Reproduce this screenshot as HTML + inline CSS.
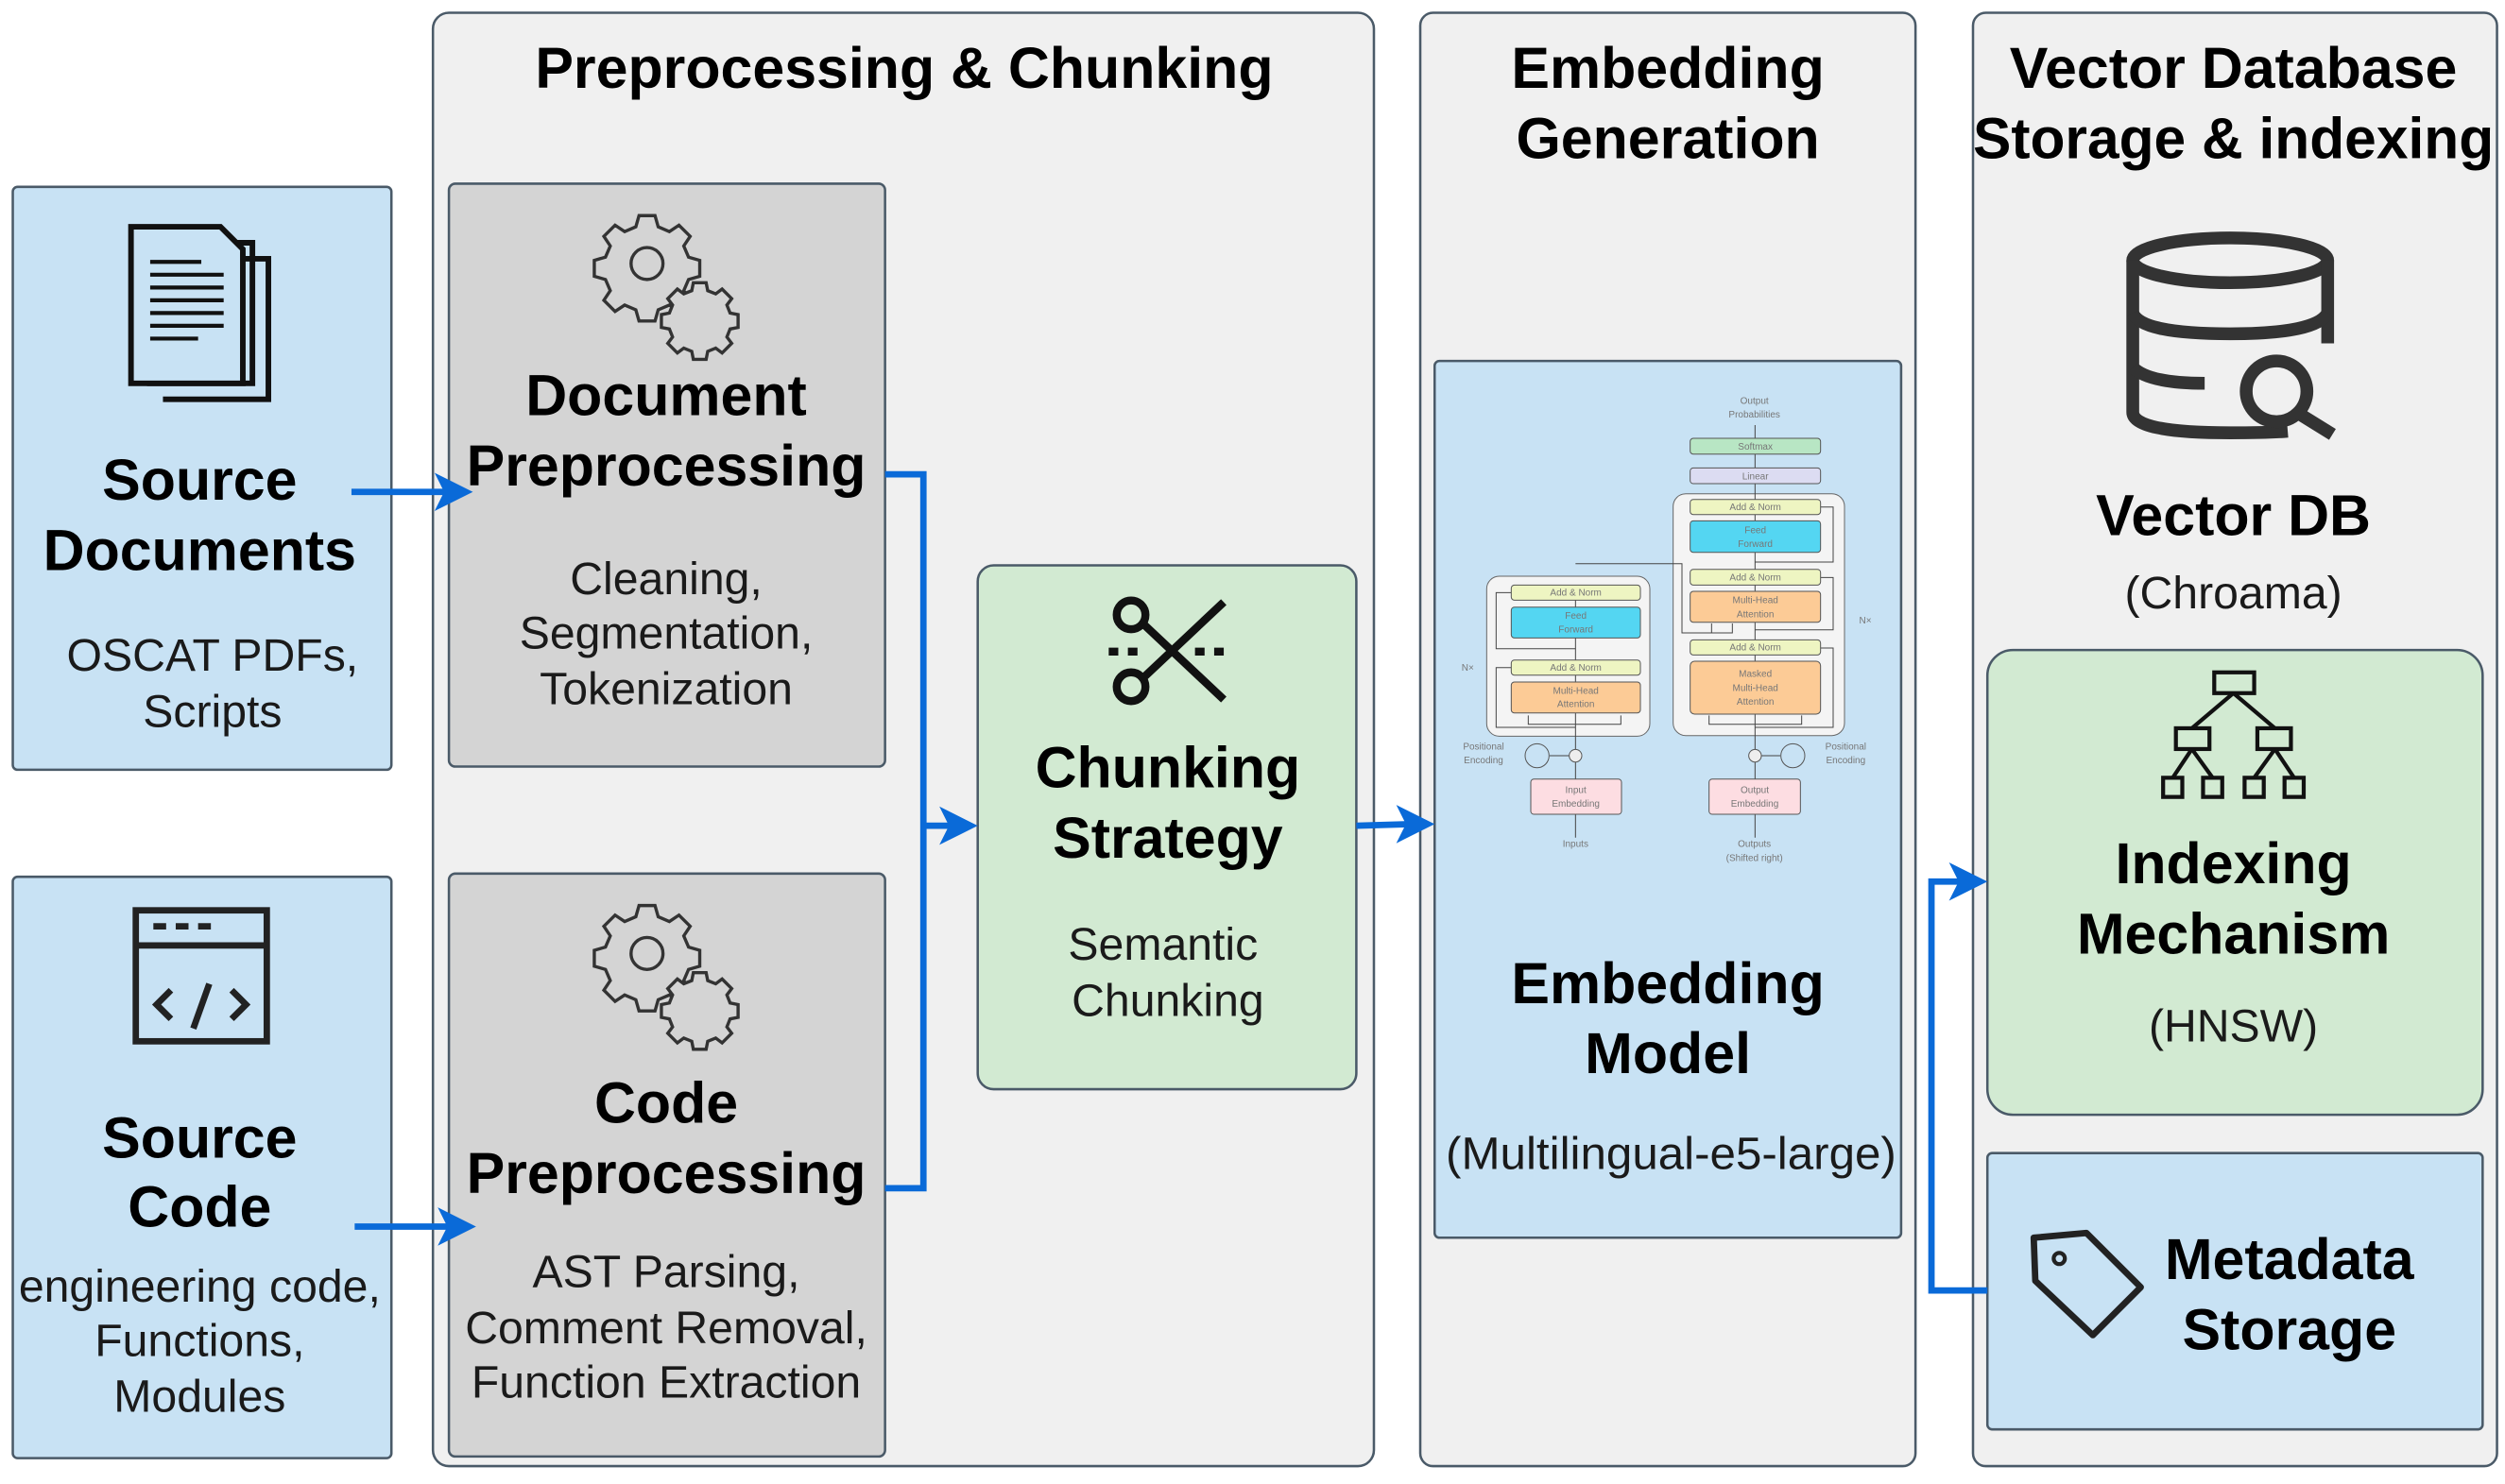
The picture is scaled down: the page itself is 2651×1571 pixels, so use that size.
<!DOCTYPE html>
<html><head><meta charset="utf-8"><style>
html,body{margin:0;padding:0;background:#fff;}
svg{display:block;}
text{font-family:"Liberation Sans",Arial,sans-serif;}
.h{font-weight:bold;font-size:36px;fill:#000;text-anchor:middle;}
.b{font-size:28.5px;fill:#1a1a1a;text-anchor:middle;}
.t{font-size:30px;fill:#777;text-anchor:middle;}
</style></head><body>
<svg width="2651" height="1571" viewBox="0 0 1568 929.2" xmlns="http://www.w3.org/2000/svg">
<rect width="1568" height="929.2" fill="#fff"/>
<!-- panels -->
<rect x="271" y="8" width="589" height="910" rx="10" fill="#f0f0f0" stroke="#4a5a68" stroke-width="1.5"/>
<rect x="889" y="8" width="310" height="910" rx="8" fill="#f0f0f0" stroke="#4a5a68" stroke-width="1.5"/>
<rect x="1235" y="8" width="328" height="910" rx="8" fill="#f0f0f0" stroke="#4a5a68" stroke-width="1.5"/>
<text class="h" x="566" y="55">Preprocessing &amp; Chunking</text>
<text class="h" x="1044" y="55">Embedding</text>
<text class="h" x="1044" y="99">Generation</text>
<text class="h" x="1398" y="55">Vector Database</text>
<text class="h" x="1398" y="99" textLength="326" lengthAdjust="spacingAndGlyphs">Storage &amp; indexing</text>

<!-- source boxes -->
<rect x="8" y="117" width="237" height="365" rx="3" fill="#c8e2f4" stroke="#4a5a68" stroke-width="1.5"/>
<rect x="8" y="549" width="237" height="364" rx="3" fill="#c8e2f4" stroke="#4a5a68" stroke-width="1.5"/>
<!-- doc icon -->
<g fill="none" stroke="#111" stroke-width="3.5">
<path d="M108 162 h60 v88 h-66"/>
<path d="M98 152 h60 v88 h-66"/>
<path d="M82 142 h56 l14 14 v84 h-70 z" fill="#c8e2f4"/>
<path d="M94 164 h32 M94 172 h46 M94 180 h46 M94 188 h46 M94 196 h46 M94 204 h46 M94 212 h30" stroke-width="2.5"/>
</g>
<text class="h" x="125" y="313">Source</text>
<text class="h" x="125" y="357">Documents</text>
<text class="b" x="133" y="420">OSCAT PDFs,</text>
<text class="b" x="133" y="455">Scripts</text>
<!-- code icon -->
<g fill="none" stroke="#222" stroke-width="4">
<rect x="85" y="570" width="82" height="82"/>
<path d="M85 592 h82"/>
<path d="M107 620 l-9 9 l9 9 M145 620 l9 9 l-9 9 M131 616 l-10 28"/>
</g>
<path d="M96 580 h8 M110 580 h8 M124 580 h8" stroke="#222" stroke-width="4"/>
<text class="h" x="125" y="725">Source</text>
<text class="h" x="125" y="768">Code</text>
<text class="b" x="125" y="815">engineering code,</text>
<text class="b" x="125" y="849">Functions,</text>
<text class="b" x="125" y="884">Modules</text>

<!-- preprocessing boxes -->
<rect x="281" y="115" width="273" height="365" rx="4" fill="#d4d4d4" stroke="#4a5a68" stroke-width="1.5"/>
<rect x="281" y="547" width="273" height="365" rx="4" fill="#d4d4d4" stroke="#4a5a68" stroke-width="1.5"/>
<defs>
<g id="gears" fill="none" stroke="#333" stroke-width="2">
<circle cx="405" cy="165" r="10"/>
<path d="M400 135 h10 l2 7 l7 3 l6 -4 l7 7 l-4 6 l3 7 l7 2 v10 l-7 2 l-3 7 l4 6 l-7 7 l-6 -4 l-7 3 l-2 7 h-10 l-2 -7 l-7 -3 l-6 4 l-7 -7 l4 -6 l-3 -7 l-7 -2 v-10 l7 -2 l3 -7 l-4 -6 l7 -7 l6 4 l7 -3 z"/>
<circle cx="438" cy="199" r="7"/>
<path d="M434 177 h8 l1 5 l5 2 l4 -3 l6 6 l-3 4 l2 5 l5 1 v8 l-5 1 l-2 5 l3 4 l-6 6 l-4 -3 l-5 2 l-1 5 h-8 l-1 -5 l-5 -2 l-4 3 l-6 -6 l3 -4 l-2 -5 l-5 -1 v-8 l5 -1 l2 -5 l-3 -4 l6 -6 l4 3 l5 -2 z" fill="#d4d4d4"/>
</g>
</defs>
<use href="#gears"/>
<use href="#gears" y="432"/>
<text class="h" x="417" y="260">Document</text>
<text class="h" x="417" y="304">Preprocessing</text>
<text class="b" x="417" y="372">Cleaning,</text>
<text class="b" x="417" y="406">Segmentation,</text>
<text class="b" x="417" y="441">Tokenization</text>
<text class="h" x="417" y="703">Code</text>
<text class="h" x="417" y="747">Preprocessing</text>
<text class="b" x="417" y="806">AST Parsing,</text>
<text class="b" x="417" y="841">Comment Removal,</text>
<text class="b" x="417" y="875">Function Extraction</text>

<!-- chunking -->
<rect x="612" y="354" width="237" height="328" rx="10" fill="#d2ead2" stroke="#4a5a68" stroke-width="1.5"/>
<g stroke="#111" fill="none" stroke-width="5">
<circle cx="708" cy="385" r="9"/>
<circle cx="708" cy="430" r="9"/>
<path d="M715 425 L766 377 M716 391 L766 438"/>
<path d="M694 408 h6 M706 408 h6 M748 408 h6 M760 408 h6" stroke-width="5"/>
</g>
<text class="h" x="731" y="493">Chunking</text>
<text class="h" x="731" y="537">Strategy</text>
<text class="b" x="728" y="601">Semantic</text>
<text class="b" x="731" y="636">Chunking</text>

<!-- embedding model -->
<rect x="898" y="226" width="292" height="549" rx="3" fill="#c8e2f4" stroke="#4a5a68" stroke-width="1.5"/>
<g transform="translate(922.7,236.6) scale(0.19716)">
<g stroke="#444" stroke-width="3" fill="none">
<rect x="40" y="630" width="518" height="508" rx="40" fill="#f4f4f4" stroke="#666"/>
<rect x="632" y="368" width="544" height="768" rx="40" fill="#f4f4f4" stroke="#666"/>
<path d="M322 1460 V658 M892 1460 V150"/>
<path d="M322 590 H660 V810 H820 V780 M754 810 V780"/>
<path d="M322 1110 H70 V920 H118 M322 860 H70 V682 H118"/>
<path d="M892 1110 H1140 V858 H1100 M892 800 H1140 V634 H1100 M892 585 H1140 V410 H1100"/>
<path d="M172 1072 V1100 H466 V1072 M746 1072 V1100 H1040 V1072"/>
<path d="M240 1200 H302 M912 1200 H972"/>
</g>
<g stroke="#555" stroke-width="3">
<rect x="118" y="658" width="410" height="48" rx="10" fill="#eef5c2"/>
<rect x="118" y="728" width="410" height="98" rx="10" fill="#54d6f2"/>
<rect x="118" y="896" width="410" height="48" rx="10" fill="#eef5c2"/>
<rect x="118" y="966" width="410" height="98" rx="10" fill="#fccb96"/>
<rect x="686" y="192" width="414" height="50" rx="10" fill="#b8e6c4"/>
<rect x="686" y="286" width="414" height="50" rx="10" fill="#dcdcf2"/>
<rect x="686" y="386" width="414" height="48" rx="10" fill="#eef5c2"/>
<rect x="686" y="454" width="414" height="100" rx="10" fill="#54d6f2"/>
<rect x="686" y="608" width="414" height="50" rx="10" fill="#eef5c2"/>
<rect x="686" y="678" width="414" height="98" rx="10" fill="#fccb96"/>
<rect x="686" y="832" width="414" height="48" rx="10" fill="#eef5c2"/>
<rect x="686" y="900" width="414" height="168" rx="14" fill="#fccb96"/>
<rect x="180" y="1274" width="288" height="112" rx="10" fill="#fddde2"/>
<rect x="746" y="1274" width="290" height="112" rx="10" fill="#fddde2"/>
<circle cx="200" cy="1200" r="38" fill="none"/>
<circle cx="1012" cy="1200" r="38" fill="none"/>
<circle cx="322" cy="1200" r="20" fill="#eee"/>
<circle cx="892" cy="1200" r="20" fill="#eee"/>
</g>
<g class="t">
<text class="t" x="323" y="692">Add &amp; Norm</text>
<text class="t" x="323" y="765">Feed</text><text class="t" x="323" y="808">Forward</text>
<text class="t" x="323" y="930">Add &amp; Norm</text>
<text class="t" x="323" y="1003">Multi-Head</text><text class="t" x="323" y="1046">Attention</text>
<text class="t" x="893" y="228">Softmax</text>
<text class="t" x="893" y="322">Linear</text>
<text class="t" x="893" y="420">Add &amp; Norm</text>
<text class="t" x="893" y="494">Feed</text><text class="t" x="893" y="537">Forward</text>
<text class="t" x="893" y="643">Add &amp; Norm</text>
<text class="t" x="893" y="716">Multi-Head</text><text class="t" x="893" y="760">Attention</text>
<text class="t" x="893" y="866">Add &amp; Norm</text>
<text class="t" x="893" y="950">Masked</text><text class="t" x="893" y="994">Multi-Head</text><text class="t" x="893" y="1038">Attention</text>
<text class="t" x="323" y="1318">Input</text><text class="t" x="323" y="1362">Embedding</text>
<text class="t" x="891" y="1318">Output</text><text class="t" x="891" y="1362">Embedding</text>
<text class="t" x="890" y="82">Output</text><text class="t" x="890" y="126">Probabilities</text>
<text class="t" x="322" y="1490">Inputs</text>
<text class="t" x="890" y="1490">Outputs</text><text class="t" x="890" y="1535">(Shifted right)</text>
<text class="t" x="30" y="1180">Positional</text><text class="t" x="30" y="1224">Encoding</text>
<text class="t" x="1180" y="1180">Positional</text><text class="t" x="1180" y="1224">Encoding</text>
<text class="t" x="1242" y="780">N×</text>
<text class="t" x="-20" y="930">N×</text>
</g>
</g>
<text class="h" x="1044" y="628">Embedding</text>
<text class="h" x="1044" y="672">Model</text>
<text class="b" x="1046" y="732" textLength="282" lengthAdjust="spacingAndGlyphs">(Multilingual-e5-large)</text>

<!-- vector DB -->
<g fill="none" stroke="#333" stroke-width="8">
<ellipse cx="1396" cy="163" rx="61" ry="14"/>
<path d="M1335 163 V258 Q1335 271 1396 271 Q1420 271 1432 270"/>
<path d="M1457 163 V215"/>
<path d="M1335 196 Q1340 209 1396 209 Q1450 209 1457 196"/>
<path d="M1335 230 Q1345 240 1380 240"/>
<circle cx="1425" cy="245" r="19"/>
<path d="M1439 259 L1460 272"/>
</g>
<text class="h" x="1398" y="335">Vector DB</text>
<text class="b" x="1398" y="381">(Chroama)</text>
<rect x="1244" y="407" width="310" height="291" rx="16" fill="#d2ead2" stroke="#4a5a68" stroke-width="1.5"/>
<g fill="none" stroke="#111" stroke-width="2.5">
<rect x="1386" y="421" width="25" height="13"/>
<rect x="1362" y="456" width="21" height="13"/>
<rect x="1413" y="456" width="21" height="13"/>
<rect x="1354" y="487" width="12" height="12"/><rect x="1379" y="487" width="12" height="12"/>
<rect x="1405" y="487" width="12" height="12"/><rect x="1430" y="487" width="12" height="12"/>
<path d="M1398 434 L1372 456 M1398 434 L1424 456 M1372 469 L1360 487 M1372 469 L1385 487 M1424 469 L1411 487 M1424 469 L1436 487"/>
</g>
<text class="h" x="1398" y="553">Indexing</text>
<text class="h" x="1398" y="597">Mechanism</text>
<text class="b" x="1398" y="652">(HNSW)</text>
<rect x="1244" y="722" width="310" height="173" rx="3" fill="#c8e2f4" stroke="#4a5a68" stroke-width="1.5"/>
<g fill="none" stroke="#222" stroke-width="4" stroke-linejoin="round">
<path d="M1273 775 L1274 802 L1310 836 L1340 806 L1306 772 Z"/>
<circle cx="1289" cy="788" r="3.5" stroke-width="2.5"/>
</g>
<text class="h" x="1433" y="801">Metadata</text>
<text class="h" x="1433" y="845">Storage</text>

<!-- connectors -->
<g stroke="#0a6ad8" stroke-width="4" fill="none">
<path d="M220 308 H282"/>
<path d="M222 768 H284"/>
<path d="M554 297 H578 V744 H554"/>
<path d="M578 517 H598"/>
<path d="M849 517 L884 516"/>
<path d="M1244 808 H1209 V552 H1230"/>
</g>
<g fill="#0a6ad8">
<path d="M296 308 L272 296 L278 308 L272 320 Z"/>
<path d="M298 768 L274 756 L280 768 L274 780 Z"/>
<path d="M612 517 L588 505 L594 517 L588 529 Z"/>
<path d="M898 516 L874 504 L880 516 L874 528 Z"/>
<path d="M1244 552 L1220 540 L1226 552 L1220 564 Z"/>
</g>
</svg>
</body></html>
